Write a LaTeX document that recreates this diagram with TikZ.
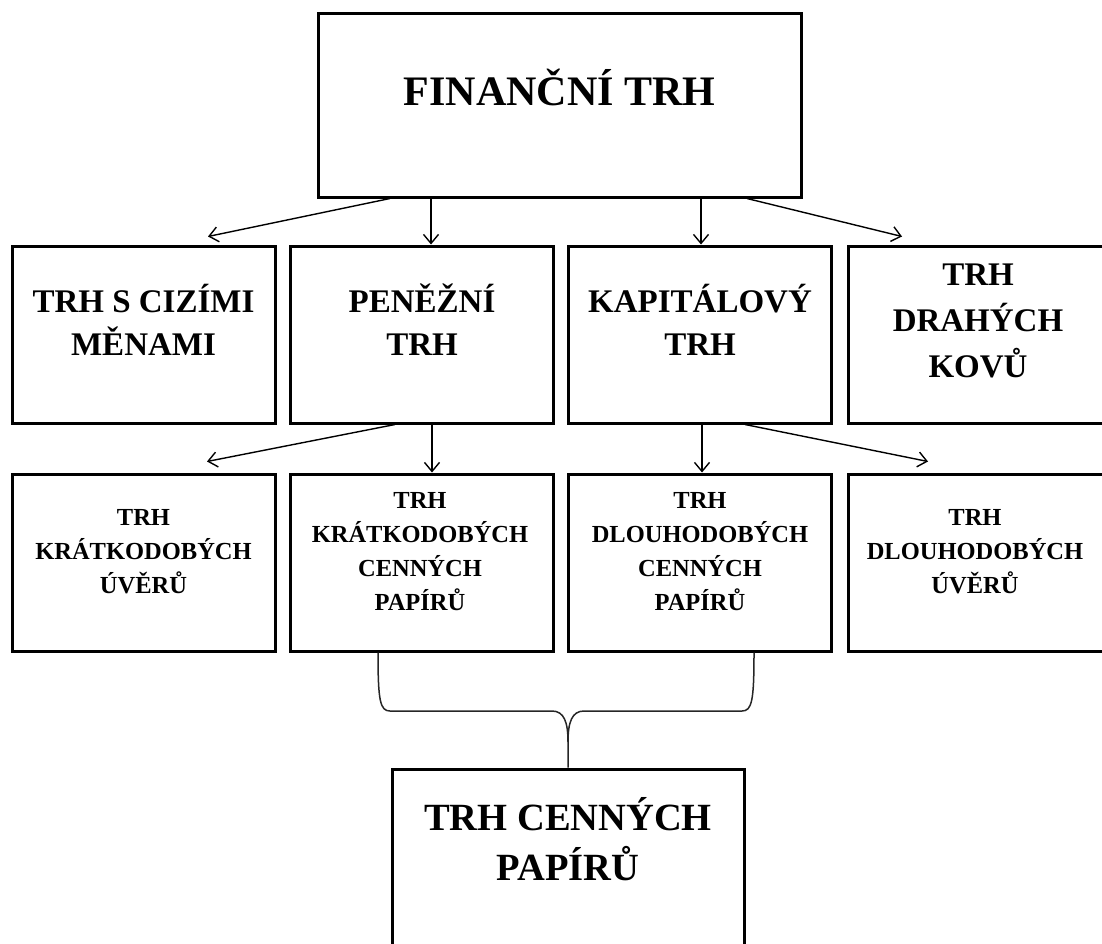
\documentclass[tikz,border=0pt]{standalone}
\usepackage{fontspec}
\setmainfont{Liberation Serif}
\usetikzlibrary{arrows.meta,calc}
\begin{document}
\begin{tikzpicture}[x=1pt,y=-1pt,
  box/.style={draw, line width=3pt, minimum width=263pt, minimum height=177pt, inner sep=0pt},
  arr/.style={line width=1.4pt, -{Straight Barb[length=9pt,width=15pt,line width=1.4pt]}},
  brace/.style={line width=1.5pt, draw=black!85},
  tA/.style={anchor=base, align=center, inner sep=0pt, font=\fontsize{42}{50}\selectfont\bfseries},
  tB/.style={anchor=base, align=center, inner sep=0pt, font=\fontsize{33}{43}\selectfont\bfseries},
  tB3/.style={tB, font=\fontsize{33}{46}\selectfont\bfseries},
  tC/.style={anchor=base, align=center, inner sep=0pt, font=\fontsize{24.5}{34}\selectfont\bfseries},
  tD/.style={anchor=base, align=center, inner sep=0pt, font=\fontsize{38.5}{50}\selectfont\bfseries}]
\useasboundingbox (0,0) rectangle (1102,943);
\clip (0,0) rectangle (1102,943);
% boxes
\node[box, minimum width=483pt, minimum height=184pt] (fin) at (559.5,105) {};
\node[box] (b1) at (143.5,334.5) {};
\node[box] (b2) at (422,334.5) {};
\node[box] (b3) at (700,334.5) {};
\node[box] (b4) at (980,334.5) {};
\node[box] (c1) at (143.5,562.5) {};
\node[box] (c2) at (422,562.5) {};
\node[box] (c3) at (700,562.5) {};
\node[box] (c4) at (980,562.5) {};
\node[box, minimum width=352pt, minimum height=188pt] (bot) at (568,863) {};
% texts (anchor base = last line baseline)
\node[tA] (fint) at (559.5,105) {FINANČNÍ TRH};
\node[tB] (b1t) at (143.5,355) {TRH S CIZÍMI\\MĚNAMI};
\node[tB] (b2t) at (422,355) {PENĚŽNÍ\\TRH};
\node[tB] (b3t) at (700,355) {KAPITÁLOVÝ\\TRH};
\node[tB3] (b4t) at (978,377) {TRH\\DRAHÝCH\\KOVŮ};
\node[tC] (c1t) at (143.5,593) {TRH\\KRÁTKODOBÝCH\\ÚVĚRŮ};
\node[tC] (c2t) at (420,610) {TRH\\KRÁTKODOBÝCH\\CENNÝCH\\PAPÍRŮ};
\node[tC] (c3t) at (700,610) {TRH\\DLOUHODOBÝCH\\CENNÝCH\\PAPÍRŮ};
\node[tC] (c4t) at (975,593) {TRH\\DLOUHODOBÝCH\\ÚVĚRŮ};
\node[tD] (bott) at (568,880) {TRH CENNÝCH\\PAPÍRŮ};
% arrows level 1
\draw[arr] ([xshift=-169.5pt]fin.south) -- ([xshift=64.5pt,yshift=8pt]b1.north);
\draw[arr] ([xshift=9pt]b2.north |- fin.south) -- ([xshift=9pt]b2.north);
\draw[arr] ([xshift=1pt]b3.north |- fin.south) -- ([xshift=1pt]b3.north);
\draw[arr] ([xshift=187.5pt]fin.south) -- ([xshift=-78pt,yshift=8pt]b4.north);
% arrows level 2
\draw[arr] ([xshift=-27pt]b2.south) -- ([xshift=63.5pt,yshift=11pt]c1.north);
\draw[arr] ([xshift=10pt]b2.south) -- ([xshift=10pt]c2.north);
\draw[arr] ([xshift=2pt]b3.south) -- ([xshift=2pt]c3.north);
\draw[arr] ([xshift=45pt]b3.south) -- ([xshift=-52pt,yshift=11pt]c4.north);
% brace
\coordinate (bl) at ([xshift=-44pt]c2.south);
\coordinate (br) at ([xshift=54pt]c3.south);
\draw[brace] (bl) .. controls +(0,48) and +(-10,0) .. (390,711) -- (552,711)
  .. controls (564,711) and (568,722) .. (568,742) -- (bot.north);
\draw[brace] (br) .. controls +(0,48) and +(10,0) .. (742,711) -- (584,711)
  .. controls (572,711) and (568,722) .. (568,742);
\end{tikzpicture}
\end{document}
